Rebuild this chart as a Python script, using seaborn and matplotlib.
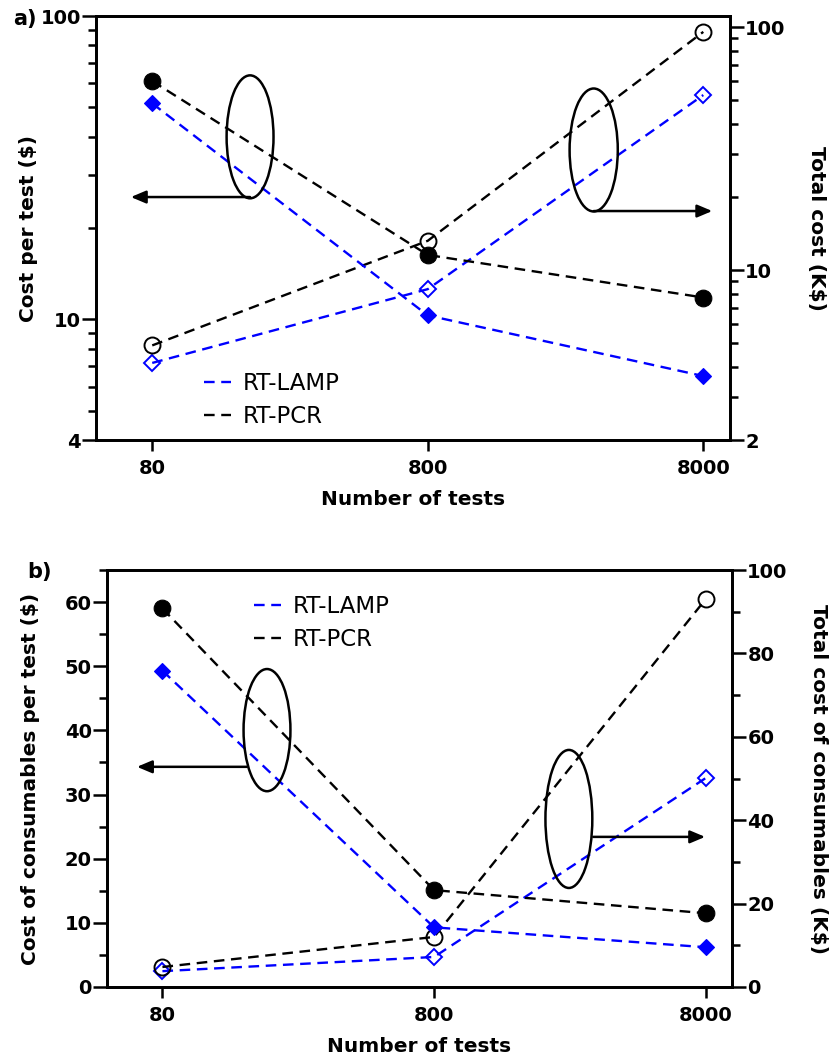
import numpy as np
import pandas as pd
import seaborn as sns
import matplotlib
matplotlib.use("Agg")
import matplotlib.pyplot as plt
from matplotlib.patches import Ellipse
from matplotlib.lines import Line2D
from matplotlib.ticker import (FixedLocator, LogLocator, NullLocator,
                               NullFormatter, MultipleLocator, FixedFormatter)

# ---------------- data ----------------
tests = [80, 800, 8000]
tick_labels = ["80", "800", "8000"]
series = ["RT-LAMP", "RT-PCR"]

# panel a (log scales)
a_cost_lamp = [51.5, 10.3, 6.5]      # cost per test ($)
a_cost_pcr = [61.0, 16.3, 11.8]
a_total_lamp = [4.15, 8.35, 52.5]    # total cost (K$)
a_total_pcr = [4.9, 13.2, 95.5]

# panel b (linear scales)
b_cost_lamp = [49.3, 9.3, 6.2]       # cost of consumables per test ($)
b_cost_pcr = [59.0, 15.1, 11.5]
b_total_lamp = [3.8, 7.2, 50.1]      # total cost of consumables (K$)
b_total_pcr = [4.8, 12.0, 93.0]

BLUE = "#0000ff"
BLACK = "#000000"

sns.set_style("ticks")
plt.rcParams["font.family"] = ["DejaVu Sans"]
plt.rcParams["axes.linewidth"] = 2.0
for k in ("text.color", "axes.labelcolor", "xtick.color", "ytick.color",
          "xtick.labelcolor", "ytick.labelcolor"):
    plt.rcParams[k] = "black"

fig = plt.figure(figsize=(8.35, 10.61), dpi=100)
W, H = 835, 1061


def ax_rect(x0, y0, x1, y1):
    return [x0 / W, 1 - y1 / H, (x1 - x0) / W, (y1 - y0) / H]


DASH = (0, (4.5, 2.8))
LW = 1.7


def draw(ax, y, color, marker, filled, ms):
    df = pd.DataFrame({"tests": tests, "value": y})
    sns.lineplot(data=df, x="tests", y="value", ax=ax, color=color,
                 marker=marker, markersize=ms, linewidth=LW, linestyle=DASH,
                 markerfacecolor=color if filled else "none",
                 markeredgecolor=color, markeredgewidth=1.4 if not filled else 0.8,
                 legend=False, zorder=3)


def style_common(ax):
    for s in ax.spines.values():
        s.set_linewidth(2.0)
        s.set_color("black")
    ax.tick_params(axis="both", which="major", length=10, width=1.8, pad=1,
                   labelsize=14, color="black", labelcolor="black")
    ax.tick_params(axis="both", which="minor", length=6, width=1.8, color="black")
    for lab in ax.get_xticklabels() + ax.get_yticklabels():
        lab.set_fontweight("bold")


def annotate_shapes(ax, ell, arrow_start, arrow_end):
    cx, cy, w, h = ell
    ax.add_patch(Ellipse((cx, cy), w, h, transform=ax.transAxes, fill=False,
                         edgecolor="black", linewidth=1.8, clip_on=False, zorder=5))
    ax.annotate("", xy=arrow_end, xytext=arrow_start, xycoords="axes fraction",
                textcoords="axes fraction",
                arrowprops=dict(arrowstyle="-|>,head_length=0.9,head_width=0.38",
                                lw=1.8, color="black", shrinkA=0, shrinkB=0),
                zorder=5)


lab_kw = dict(fontsize=14.5, fontweight="bold", color="black")
leg_kw = dict(loc="upper left", frameon=False, fontsize=16.5, handlelength=1.2,
              handletextpad=0.5, labelspacing=0.45, borderaxespad=0, borderpad=0)

# ---------------- panel a ----------------
ax1 = fig.add_axes(ax_rect(96, 16, 730, 440))
ax1r = ax1.twinx()
draw(ax1, a_cost_lamp, BLUE, "D", True, 8)
draw(ax1, a_cost_pcr, BLACK, "o", True, 12)
draw(ax1r, a_total_lamp, BLUE, "D", False, 8.5)
draw(ax1r, a_total_pcr, BLACK, "o", False, 11.5)

for ax in (ax1, ax1r):
    ax.set_xscale("log")
    ax.set_xlim(50, 10000)
    ax.xaxis.set_major_locator(FixedLocator(tests))
    ax.xaxis.set_major_formatter(FixedFormatter(tick_labels))
    ax.xaxis.set_minor_locator(NullLocator())
    ax.set_yscale("log")

ax1.set_ylim(4, 100)
ax1.yaxis.set_major_locator(FixedLocator([4, 10, 100]))
ax1.yaxis.set_major_formatter(FixedFormatter(["4", "10", "100"]))
ax1.yaxis.set_minor_locator(LogLocator(subs=np.arange(2, 10)))
ax1.yaxis.set_minor_formatter(NullFormatter())

ax1r.set_ylim(2, 111)
ax1r.yaxis.set_major_locator(FixedLocator([2, 10, 100]))
ax1r.yaxis.set_major_formatter(FixedFormatter(["2", "10", "100"]))
ax1r.yaxis.set_minor_locator(LogLocator(subs=np.arange(2, 10)))
ax1r.yaxis.set_minor_formatter(NullFormatter())

for ax in (ax1, ax1r):
    style_common(ax)
    ax.tick_params(axis="x", which="major", length=8, pad=6)

ax1.set_xlabel("Number of tests", labelpad=8, **lab_kw)
ax1.set_ylabel("Cost per test ($)", labelpad=2, **lab_kw)
ax1r.set_ylabel("Total cost (K$)", rotation=270, labelpad=29, **lab_kw)
ax1.set_zorder(ax1r.get_zorder() + 1)
ax1.patch.set_visible(False)

annotate_shapes(ax1, (0.243, 0.715, 0.074, 0.29), (0.243, 0.573), (0.055, 0.573))
annotate_shapes(ax1r, (0.785, 0.684, 0.076, 0.29), (0.785, 0.540), (0.972, 0.540))

handles = [Line2D([], [], color=BLUE, lw=LW, linestyle=DASH),
           Line2D([], [], color=BLACK, lw=LW, linestyle=DASH)]
ax1.legend(handles, series, bbox_to_anchor=(0.17, 0.16), **leg_kw)

# ---------------- panel b ----------------
ax2 = fig.add_axes(ax_rect(107, 570, 732, 987))
ax2r = ax2.twinx()
draw(ax2, b_cost_lamp, BLUE, "D", True, 8)
draw(ax2, b_cost_pcr, BLACK, "o", True, 12)
draw(ax2r, b_total_lamp, BLUE, "D", False, 8.5)
draw(ax2r, b_total_pcr, BLACK, "o", False, 11.5)

for ax in (ax2, ax2r):
    ax.set_xscale("log")
    ax.set_xlim(50, 10000)
    ax.xaxis.set_major_locator(FixedLocator(tests))
    ax.xaxis.set_major_formatter(FixedFormatter(tick_labels))
    ax.xaxis.set_minor_locator(NullLocator())

ax2.set_ylim(0, 65)
ax2.yaxis.set_major_locator(FixedLocator([0, 10, 20, 30, 40, 50, 60]))
ax2.yaxis.set_minor_locator(FixedLocator([5, 15, 25, 35, 45, 55, 65]))
ax2r.set_ylim(0, 100)
ax2r.yaxis.set_major_locator(MultipleLocator(20))
ax2r.yaxis.set_minor_locator(MultipleLocator(10))

for ax in (ax2, ax2r):
    style_common(ax)
    ax.tick_params(axis="x", which="major", length=8, pad=6)

ax2.set_xlabel("Number of tests", labelpad=8, **lab_kw)
ax2.set_ylabel("Cost of consumables per test ($)", labelpad=18, **lab_kw)
ax2r.set_ylabel("Total cost of consumables (K$)", rotation=270, labelpad=29, **lab_kw)
ax2.set_zorder(ax2r.get_zorder() + 1)
ax2.patch.set_visible(False)

annotate_shapes(ax2, (0.256, 0.616, 0.075, 0.293), (0.224, 0.528), (0.048, 0.528))
annotate_shapes(ax2r, (0.739, 0.403, 0.075, 0.331), (0.778, 0.360), (0.957, 0.360))

ax2.legend(handles, series, bbox_to_anchor=(0.235, 0.94), **leg_kw)

fig.text(13 / W, 1 - 19 / H, "a)", fontsize=15, fontweight="bold", va="center")
fig.text(27 / W, 1 - 572 / H, "b)", fontsize=15, fontweight="bold", va="center")

fig.savefig("out.png", dpi=100)
